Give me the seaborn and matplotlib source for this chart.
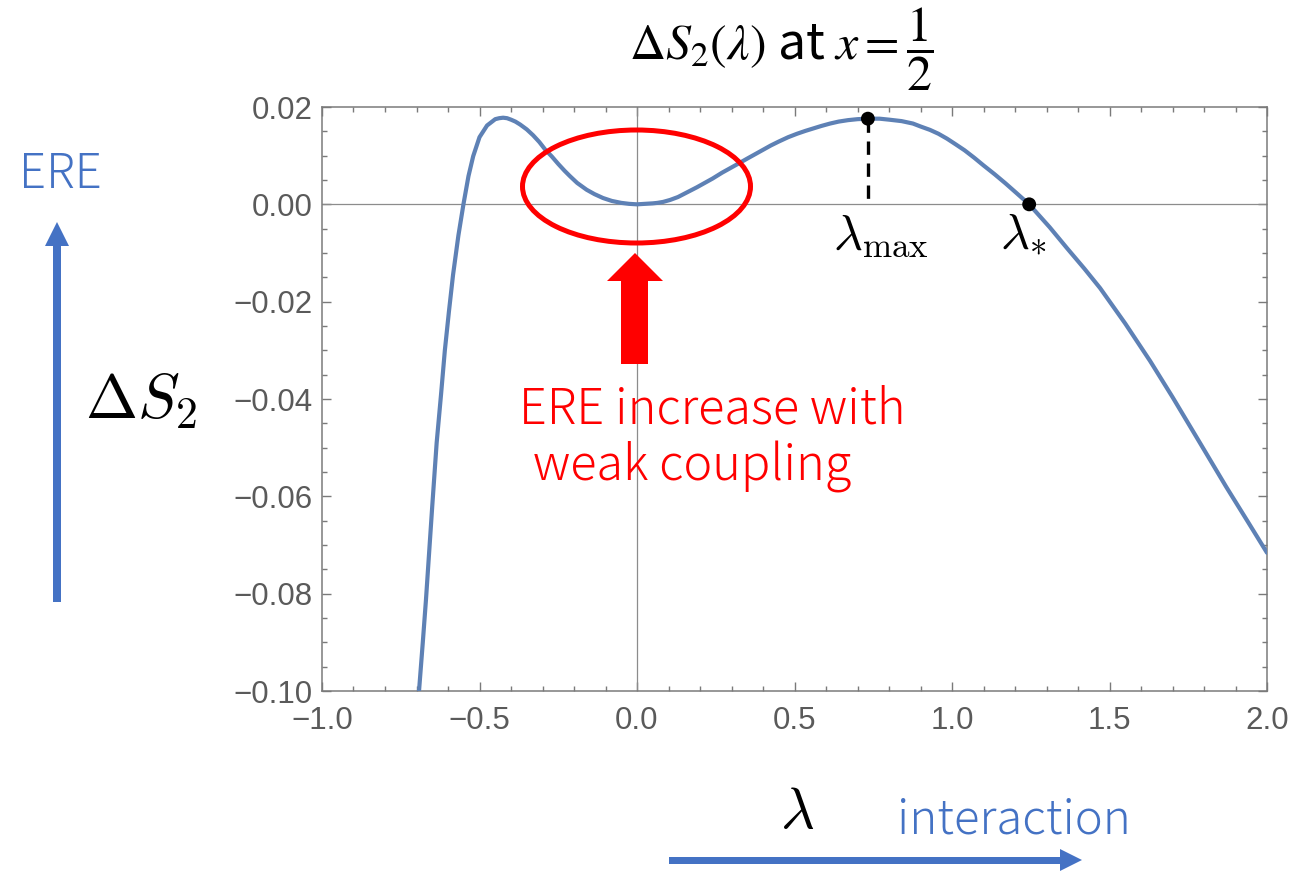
import matplotlib
matplotlib.use("Agg")
import matplotlib.pyplot as plt
from matplotlib.patches import Ellipse, Polygon
from matplotlib.ticker import MultipleLocator, FuncFormatter
import numpy as np
import pandas as pd
import seaborn as sns

# ---- data ----
lam = [-0.692, -0.680, -0.670, -0.650, -0.636, -0.622, -0.610, -0.597, -0.584, -0.567,
       -0.551, -0.535, -0.520, -0.500, -0.476, -0.450, -0.4375, -0.425, -0.4125, -0.400,
       -0.386, -0.371, -0.350, -0.330, -0.310, -0.292, -0.270, -0.250, -0.230, -0.213,
       -0.190, -0.160, -0.135, -0.108, -0.080, -0.050, -0.025, 0.000, 0.025, 0.050,
       0.065, 0.083, 0.105, 0.130, 0.160, 0.190, 0.215, 0.240, 0.270, 0.295,
       0.320, 0.350, 0.375, 0.400, 0.425, 0.450, 0.480, 0.508, 0.535, 0.560,
       0.585, 0.613, 0.640, 0.670, 0.700, 0.733, 0.770, 0.800, 0.840, 0.876,
       0.900, 0.930, 0.957, 0.984, 1.010, 1.040, 1.070, 1.100, 1.135, 1.170,
       1.205, 1.245, 1.310, 1.365, 1.420, 1.470, 1.550, 1.629, 1.700, 1.787,
       1.870, 1.940, 2.000]
ds2 = [-0.1000, -0.0900, -0.0813, -0.0620, -0.0490, -0.0390, -0.0300, -0.0220, -0.0145, -0.0064,
       0.0000, 0.0058, 0.0099, 0.0138, 0.0162, 0.0175, 0.0177, 0.0178, 0.0177, 0.0174,
       0.0170, 0.0164, 0.0154, 0.0142, 0.0128, 0.0113, 0.0098, 0.0083, 0.0069, 0.0058,
       0.0044, 0.0030, 0.0021, 0.0013, 0.0007, 0.0003, 0.0001, 0.0000, 0.0001, 0.0002,
       0.0003, 0.0005, 0.0009, 0.0015, 0.0025, 0.0035, 0.0044, 0.0053, 0.0065, 0.0074,
       0.0083, 0.0094, 0.0103, 0.0112, 0.0121, 0.0129, 0.0138, 0.0145, 0.0151, 0.0156,
       0.0161, 0.0166, 0.0170, 0.0173, 0.0175, 0.0176, 0.0176, 0.0174, 0.0171, 0.0166,
       0.0160, 0.0153, 0.0145, 0.0135, 0.0124, 0.0111, 0.0096, 0.0080, 0.0062, 0.0043,
       0.0023, 0.0000, -0.0047, -0.0090, -0.0132, -0.0172, -0.0245, -0.0322, -0.0396, -0.0490,
       -0.0580, -0.0653, -0.0716]
key_lam = [0.733, 1.245]          # lambda_max, lambda_*
key_ds2 = [0.0176, 0.0]
xticks = [-1.0, -0.5, 0.0, 0.5, 1.0, 1.5, 2.0]
yticks = [-0.10, -0.08, -0.06, -0.04, -0.02, 0.00, 0.02]

df = pd.DataFrame({"lam": lam, "ds2": ds2})
kdf = pd.DataFrame({"lam": key_lam, "ds2": key_ds2})

sns.set_style("ticks")
plt.rcParams["font.family"] = ["Noto Sans CJK JP", "DejaVu Sans"]

W, H = 1293, 871
fig = plt.figure(figsize=(W / 100, H / 100), dpi=100)
L, R, T, B = 322, 1267, 107, 691
ax = fig.add_axes([L / W, 1 - B / H, (R - L) / W, (B - T) / H])

gray = "#7a7a7a"
ax.axhline(0, color="#8c8c8c", lw=0.9, zorder=1)
ax.axvline(0, color="#8c8c8c", lw=0.9, zorder=1)
sns.lineplot(data=df, x="lam", y="ds2", ax=ax, color="#5E81B5", lw=3.0,
             sort=False, zorder=3, legend=False)
ax.plot([key_lam[0], key_lam[0]], [key_ds2[0], 0], color="black", lw=2.4,
        dashes=(4.0, 2.6), zorder=2)
sns.scatterplot(data=kdf, x="lam", y="ds2", ax=ax, color="black", s=100,
                edgecolor="none", zorder=5, legend=False)

ax.set_xlim(-1.0, 2.0)
ax.set_ylim(-0.10, 0.02)
ax.set_xticks(xticks)
ax.set_yticks(yticks)
ax.xaxis.set_major_formatter(FuncFormatter(lambda v, p: f"{v:.1f}".replace("-", "\u2212")))
ax.yaxis.set_major_formatter(FuncFormatter(lambda v, p: f"{v:.2f}".replace("-", "\u2212")))
ax.xaxis.set_minor_locator(MultipleLocator(0.1))
ax.yaxis.set_minor_locator(MultipleLocator(0.005))
ax.tick_params(which="both", direction="in", top=True, right=True, color=gray,
               width=1.0, labelcolor="#5a5a5a", labelsize=22.5)
ax.tick_params(which="major", length=6.5)
ax.tick_params(axis="x", which="major", pad=11)
ax.tick_params(axis="y", which="major", pad=7)
ax.tick_params(which="minor", length=3.8)
for lab in ax.get_xticklabels() + ax.get_yticklabels():
    lab.set_family("Liberation Sans")
for s in ax.spines.values():
    s.set_color(gray)
    s.set_linewidth(1.1)
ax.set_xlabel("")
ax.set_ylabel("")

# ---- overlay in pixel coordinates for annotations ----
ov = fig.add_axes([0, 0, 1, 1], zorder=10)
ov.set_xlim(0, W)
ov.set_ylim(H, 0)
ov.axis("off")
ov.patch.set_alpha(0)

red = "#FF0000"
blue = "#4472C4"

ov.add_patch(Ellipse((636.5, 186.5), 228, 113, fill=False, ec=red, lw=3.6))
ov.add_patch(Polygon([(635, 253), (663, 281), (648, 281), (648, 364), (621, 364),
                      (621, 281), (607, 281)], closed=True, fc=red, ec="none"))
ov.add_patch(Polygon([(57, 222), (69, 246), (61, 246), (61, 602), (53, 602),
                      (53, 246), (45, 246)], closed=True, fc=blue, ec="none"))
ov.add_patch(Polygon([(1082, 860), (1060, 849), (1060, 857), (669, 857), (669, 864),
                      (1060, 864), (1060, 871)], closed=True, fc=blue, ec="none",
                     clip_on=False))

ov.text(519, 423, "ERE increase with", color=red, fontsize=35, va="baseline", ha="left",
        fontweight="light")
ov.text(533, 480, "weak coupling", color=red, fontsize=35, va="baseline", ha="left",
        fontweight="light")
ov.text(19, 188, "ERE", color=blue, fontsize=34, va="baseline", ha="left",
        fontweight="light")
ov.text(897, 833, "interaction", color=blue, fontsize=34, va="baseline", ha="left",
        fontweight="light")

ov.text(85, 418, r"$\Delta S_2$", fontsize=45, va="baseline", ha="left",
        math_fontfamily="cm", color="black")
ov.text(780, 828, r"$\lambda$", fontsize=42, va="baseline", ha="left",
        math_fontfamily="cm", color="black")
ov.text(833, 248, r"$\lambda_{\mathrm{max}}$", fontsize=36, va="baseline", ha="left",
        math_fontfamily="cm", color="black")
ov.text(1000, 247, r"$\lambda_{*}$", fontsize=36, va="baseline", ha="left",
        math_fontfamily="cm", color="black")
ov.text(629, 60, r"$\Delta S_2(\lambda)$ at $x = \dfrac{1}{2}$", fontsize=36,
        va="baseline", ha="left", math_fontfamily="stix", color="black")

fig.savefig("out.png", dpi=100, facecolor="white")
